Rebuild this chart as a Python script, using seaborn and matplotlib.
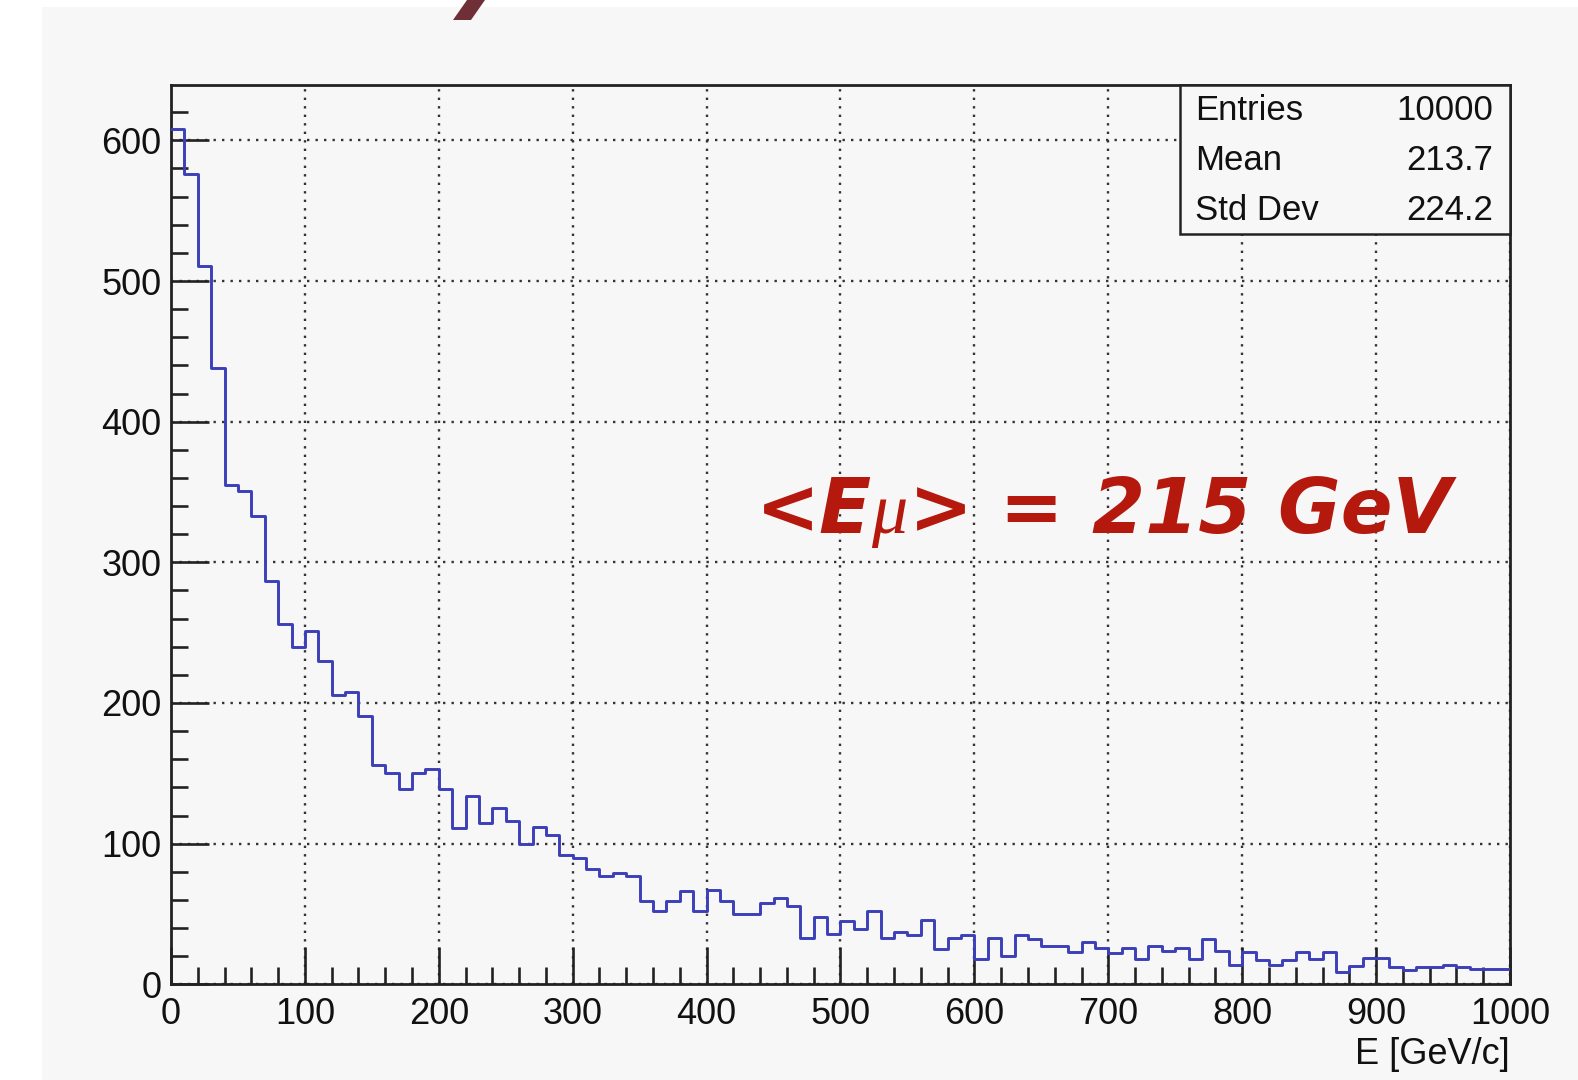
import numpy as np
import pandas as pd
import matplotlib
matplotlib.use("Agg")
import matplotlib.pyplot as plt
from matplotlib.patches import Rectangle, Polygon
from matplotlib.ticker import MultipleLocator
import seaborn as sns

# Muon energy spectrum: 100 bins of 10 GeV between 0 and 1000 GeV
bin_low = 0
bin_high = 1000
bin_width = 10
counts = [608, 576, 511, 438, 355, 351, 333, 287, 256, 240,
          251, 230, 206, 208, 191, 156, 150, 139, 150, 153,
          139, 111, 134, 115, 125, 116, 100, 112, 106, 92,
          90, 82, 77, 79, 77, 59, 52, 59, 66, 52,
          67, 59, 50, 50, 58, 61, 56, 33, 48, 36,
          45, 39, 52, 33, 37, 35, 46, 25, 33, 35,
          18, 33, 20, 35, 32, 27, 27, 23, 30, 26,
          22, 26, 18, 27, 24, 26, 18, 32, 24, 14,
          23, 17, 14, 17, 23, 18, 23, 9, 13, 19,
          19, 12, 10, 12, 12, 14, 12, 11, 11, 11]

stat_names = ["Entries", "Mean", "Std Dev"]
stat_values = ["10000", "213.7", "224.2"]

x_label = "E [GeV/c]"
x_ticks = [0, 100, 200, 300, 400, 500, 600, 700, 800, 900, 1000]
y_ticks = [0, 100, 200, 300, 400, 500, 600]
y_max = 639

centers = np.arange(bin_low, bin_high, bin_width) + bin_width / 2
df = pd.DataFrame({"E": centers, "n": counts})

sns.set_style("ticks")
plt.rcParams["font.family"] = ["Liberation Sans", "DejaVu Sans"]

bg = "#f7f7f7"
line_blue = "#3b3fb8"
red = "#b5180c"

fig = plt.figure(figsize=(15.78, 10.8), dpi=100, facecolor="white")
fig.patches.append(Rectangle((42 / 1578, 0), 1 - 42 / 1578, 1 - 7 / 1080,
                             transform=fig.transFigure, facecolor=bg,
                             edgecolor="none", zorder=-10))
# slice of a heading glyph cut off at the top edge
fig.patches.append(Polygon([(453 / 1578, 1 - 20 / 1080), (471 / 1578, 1 - 20 / 1080),
                            (485 / 1578, 1.0), (467 / 1578, 1.0)],
                           closed=True, transform=fig.transFigure,
                           facecolor="#6e2f36", edgecolor="none", zorder=5))

ax = fig.add_axes([171 / 1578, 1 - 984.3 / 1080, (1510 - 171) / 1578, (984.3 - 85.5) / 1080])
ax.set_facecolor(bg)

sns.histplot(data=df, x="E", weights="n", binwidth=bin_width,
             binrange=(bin_low, bin_high), element="step", fill=False,
             color=line_blue, linewidth=2.1, ax=ax, zorder=3)

ax.set_xlim(bin_low, bin_high)
ax.set_ylim(0, y_max)
ax.set_xticks(x_ticks)
ax.set_yticks(y_ticks)
ax.xaxis.set_minor_locator(MultipleLocator(20))
ax.yaxis.set_minor_locator(MultipleLocator(20))
ax.tick_params(which="both", direction="in", top=False, right=False,
               width=1.9, color="#222222")
ax.tick_params(which="major", length=27, labelsize=26, labelcolor="#111111")
ax.tick_params(axis="x", which="major", pad=9)
ax.tick_params(axis="y", which="major", pad=7)
ax.tick_params(which="minor", length=12)

ax.set_axisbelow(True)
ax.grid(True, which="major", linestyle=(0, (1, 2.6)), color="#333333", linewidth=1.7)
for s in ax.spines.values():
    s.set_visible(True)
    s.set_linewidth(2.0)
    s.set_color("#222222")

ax.set_ylabel("")
ax.set_xlabel(x_label, loc="right", fontsize=26, color="#111111", labelpad=4)

# statistics box in the upper right corner
box_left, box_bottom = 0.7535, 0.8353
ax.add_patch(Rectangle((box_left, box_bottom), 1 - box_left, 1 - box_bottom,
                       transform=ax.transAxes, facecolor=bg, edgecolor="#222222",
                       linewidth=1.8, zorder=6, clip_on=False))
row_y = [0.972, 0.916, 0.861]
for name, val, yy in zip(stat_names, stat_values, row_y):
    ax.text(0.765, yy, name, transform=ax.transAxes, ha="left", va="center",
            fontsize=25, color="#111111", zorder=7)
    ax.text(0.9872, yy, val, transform=ax.transAxes, ha="right", va="center",
            fontsize=25, color="#111111", zorder=7)

# mean-energy annotation, pieces chained along a shared baseline
base_y = 321
bold_kw = dict(fontfamily="DejaVu Sans", fontweight="bold", fontstyle="oblique",
               fontsize=55, color=red, va="baseline", zorder=8)
t1 = ax.text(437, base_y, "<E", **bold_kw)
t2 = ax.annotate("\u03bc", xy=(1, base_y), xycoords=(t1, "data"), xytext=(-1, 0),
                 textcoords="offset points", fontfamily="Liberation Serif",
                 fontstyle="italic", fontsize=52, color=red, va="baseline", zorder=8)
t3 = ax.annotate("> =", xy=(1, base_y), xycoords=(t2, "data"), xytext=(1, 0),
                 textcoords="offset points", **bold_kw)
t4 = ax.annotate("215 GeV", xy=(1, base_y), xycoords=(t3, "data"), xytext=(21, 0),
                 textcoords="offset points", **bold_kw)

fig.savefig("out.png", dpi=100, facecolor="white")
